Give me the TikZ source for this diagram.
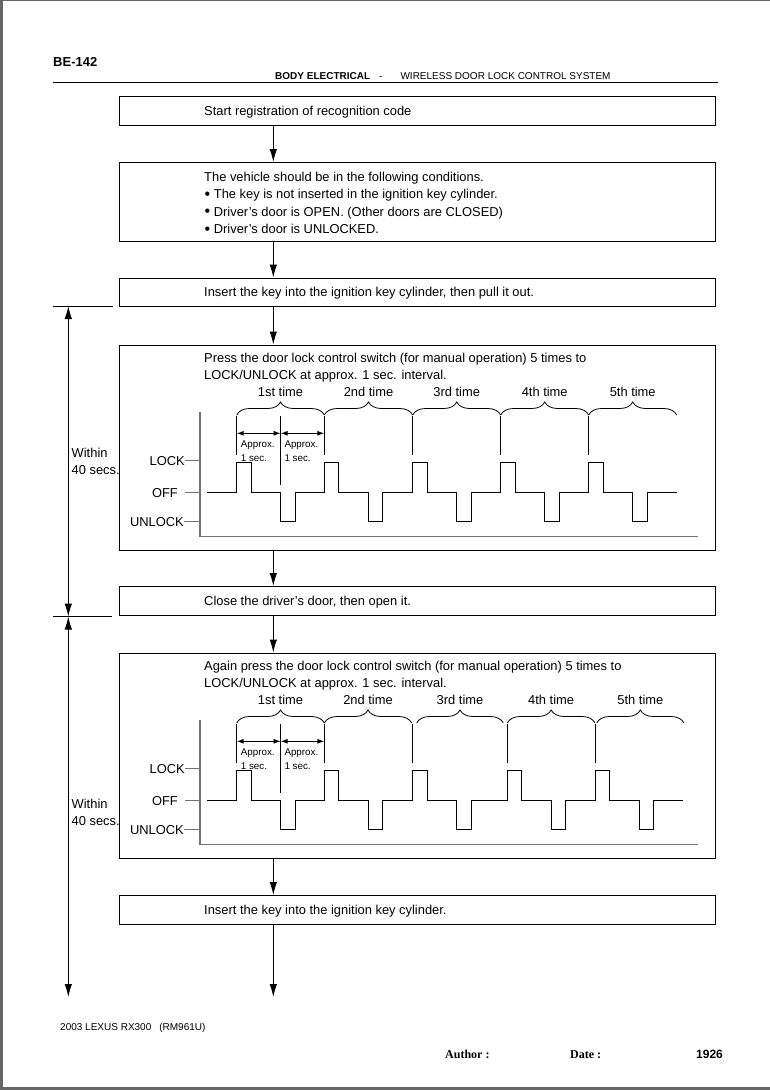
\documentclass[tikz,border=0pt]{standalone}
\usepackage{fontspec}
\setmainfont{Liberation Sans}
\newfontfamily\footserif{Liberation Serif}
\usetikzlibrary{arrows.meta,decorations.pathreplacing}
\newcommand{\condbullet}{\raisebox{-0.6pt}{\fontsize{16}{16}\selectfont\textbullet}}

\tikzset{
	flowbox/.style={draw,line width=1pt,minimum width=596pt,inner sep=0pt,minimum height=#1},
	flowtext/.style={anchor=base west,inner sep=0pt,font=\fontsize{12.9}{15}\selectfont},
	flow/.style={line width=1pt,-{Latex[length=13pt,width=7.5pt]}},
	span/.style={line width=1pt,{Latex[length=13pt,width=7.5pt]}-{Latex[length=13pt,width=7.5pt]}},
	axisline/.style={black!55,line width=1.2pt},
	levellabel/.style={anchor=base east,inner sep=0pt,font=\fontsize{12.9}{15}\selectfont},
	timebrace/.style={decorate,decoration={brace,amplitude=13pt},line width=0.8pt},
	approx/.style={anchor=base west,inner sep=0pt,font=\fontsize{9.8}{11}\selectfont},
	interval/.style={line width=1pt,{Latex[length=7pt,width=5pt]}-{Latex[length=7pt,width=5pt]}}
}

% #1 name prefix, #2 pulse starts, #3 end of signal, #4 braces
\newcommand{\pulsechart}[4]{
	\coordinate (#1axis) at (200,411.7);
	\draw[axisline] (#1axis) -- (200,536.7) -- (698.3,536.7);
	
	\node[levellabel] (#1lock) at (185,465.3) {LOCK};
	\node[levellabel] (#1off) at (178,497.3) {OFF};
	\node[levellabel] (#1unlock) at (184,526.3) {UNLOCK};
	\draw[axisline,line width=1pt] (#1lock.east) -- (#1lock.east -| #1axis);
	\draw[axisline,line width=1pt] ([xshift=7pt]#1off.east) -- (#1off.east -| #1axis);
	\draw[axisline,line width=1pt] (#1unlock.east) -- (#1unlock.east -| #1axis);
	
	\draw[line width=1pt] (207,492.7)
		\foreach \px in {#2}
		{ -- (\px,492.7) -- (\px,462.3) -- ({\px+14.5},462.3) -- ({\px+14.5},492.7)
		  -- ({\px+44},492.7) -- ({\px+44},521.7) -- ({\px+58.5},521.7) -- ({\px+58.5},492.7) }
		-- (#3,492.7);
	
	\foreach \px in {#2}
		\draw[line width=1pt] (\px,416) -- (\px,455);
	\draw[line width=1pt] (280.7,416) -- (280.7,485);
	
	\draw[interval] (236.7,433.3) -- (280.7,433.3);
	\draw[interval] (280.7,433.3) -- (324.3,433.3);
	\node[approx] (#1apxa) at (240.7,447.5) {Approx.};
	\node[approx] (#1seca) at (240.7,461.5) {1 sec.};
	\node[approx] (#1apxb) at (284.3,447.5) {Approx.};
	\node[approx] (#1secb) at (284.3,461.5) {1 sec.};
	
	\foreach \xa/\xb/\nth in {#4}
	{
		\draw[timebrace] (\xa,415) -- (\xb,415);
		\node[flowtext,anchor=base] (#1\nth) at ({(\xa+\xb)/2},396) {\nth\ time};
	}
}

\begin{document}
\begin{tikzpicture}[x=1pt,y=-1pt]
	\useasboundingbox (0,0) rectangle (770,1090);
	
	% page frame
	\fill[black!60] (0,0) rectangle (2.5,1090);
	\fill[black!60] (0,0) rectangle (770,1);
	\fill[black!60] (0,1087) rectangle (770,1090);
	
	% header
	\node[anchor=base west,inner sep=0pt,font=\bfseries\fontsize{13}{16}\selectfont] (pageno) at (53,66.5) {BE-142};
	\node[anchor=base west,inner sep=0pt,font=\fontsize{10}{12}\selectfont] (section) at (275,79.5)
		{\textbf{BODY ELECTRICAL}\hspace{9pt}-\hspace{18pt}WIRELESS DOOR LOCK CONTROL SYSTEM};
	\draw[line width=1pt] (53,82) -- (718,82);
	
	% flow boxes
	\node[flowbox=28.8pt] (start) at (417.3,111.1) {};
	\node[flowbox=79.2pt] (cond) at (417.3,202.1) {};
	\node[flowbox=28pt] (insert) at (417.3,292) {};
	\node[flowbox=205.7pt] (pressa) at (417.3,447.85) {};
	\node[flowbox=28.5pt] (close) at (417.3,600.75) {};
	\node[flowbox=205.3pt] (pressb) at (417.3,755.65) {};
	\node[flowbox=28.5pt] (insertb) at (417.3,909.75) {};
	
	\node[flowtext] (starttext) at (204,115.6) {Start registration of recognition code};
	\node[flowtext] (condtext) at (204,181) {The vehicle should be in the following conditions.};
	\node[flowtext] (conda) at (204.5,198.5) {\condbullet\ The key is not inserted in the ignition key cylinder.};
	\node[flowtext] (condb) at (204.5,216) {\condbullet\ Driver’s door is OPEN. (Other doors are CLOSED)};
	\node[flowtext] (condc) at (204.5,233.5) {\condbullet\ Driver’s door is UNLOCKED.};
	\node[flowtext] (inserttext) at (204,296.6) {Insert the key into the ignition key cylinder, then pull it out.};
	\node[flowtext] (pressatext) at (204,362.8) {Press the door lock control switch (for manual operation) 5 times to};
	\node[flowtext] (pressaint) at (204,379.5) {LOCK/UNLOCK at approx. 1 sec. interval.};
	\node[flowtext] (closetext) at (204,605.6) {Close the driver’s door, then open it.};
	\node[flowtext] (pressbtext) at (204,670.8) {Again press the door lock control switch (for manual operation) 5 times to};
	\node[flowtext] (pressbint) at (204,687.5) {LOCK/UNLOCK at approx. 1 sec. interval.};
	\node[flowtext] (insertbtext) at (204,914.6) {Insert the key into the ignition key cylinder.};
	
	% pulse charts
	\pulsechart{a}{236.7,324.3,412.7,500.7,588.7}{676.7}
		{236.7/324.3/1st,324.3/412.7/2nd,412.7/500.7/3rd,500.7/588.7/4th,588.7/676.7/5th}
	\begin{scope}[shift={(0,308)}]
		\pulsechart{b}{236.7,324.3,412.7,507.3,595}{683.3}
			{236.7/324.3/1st,324.3/411.7/2nd,416.7/503.3/3rd,507.3/595/4th,596.7/684/5th}
	\end{scope}
	
	% main flow
	\coordinate (spine) at (273.3,0);
	\coordinate (flowend) at (273.3,997);
	\draw[flow] (start.south -| spine) -- (cond.north -| spine);
	\draw[flow] (cond.south -| spine) -- (insert.north -| spine);
	\draw[flow] (insert.south -| spine) -- (pressa.north -| spine);
	\draw[flow] (pressa.south -| spine) -- (close.north -| spine);
	\draw[flow] (close.south -| spine) -- (pressb.north -| spine);
	\draw[flow] (pressb.south -| spine) -- (insertb.north -| spine);
	\draw[flow] (insertb.south -| spine) -- (flowend);
	
	% time limits
	\coordinate (lima) at (68.3,306);
	\coordinate (limb) at (68.3,616.5);
	\coordinate (limc) at (68.3,997);
	\draw[line width=1pt] (53.3,306) -- (112.7,306);
	\draw[line width=1pt] (53.3,616.5) -- (111.7,616.5);
	\draw[span] (lima) -- (limb);
	\draw[span] (limb) -- (limc);
	\node[flowtext] (withina) at (71.5,457.8) {Within};
	\node[flowtext] (secsa) at (71.5,474.5) {40 secs.};
	\node[flowtext] (withinb) at (71.5,808.5) {Within};
	\node[flowtext] (secsb) at (71.5,825.5) {40 secs.};
	
	% footer
	\node[anchor=base west,inner sep=0pt,font=\fontsize{10}{12}\selectfont] (model) at (60,1030)
		{2003 LEXUS RX300\hspace{8pt}(RM961U)};
	\node[anchor=base west,inner sep=0pt,font=\footserif\bfseries\fontsize{12}{14}\selectfont] (author) at (445,1058) {Author :};
	\node[anchor=base west,inner sep=0pt,font=\footserif\bfseries\fontsize{12}{14}\selectfont] (date) at (570,1058) {Date :};
	\node[anchor=base west,inner sep=0pt,font=\bfseries\fontsize{12}{14}\selectfont] (pagenum) at (696,1058) {1926};
\end{tikzpicture}
\end{document}
